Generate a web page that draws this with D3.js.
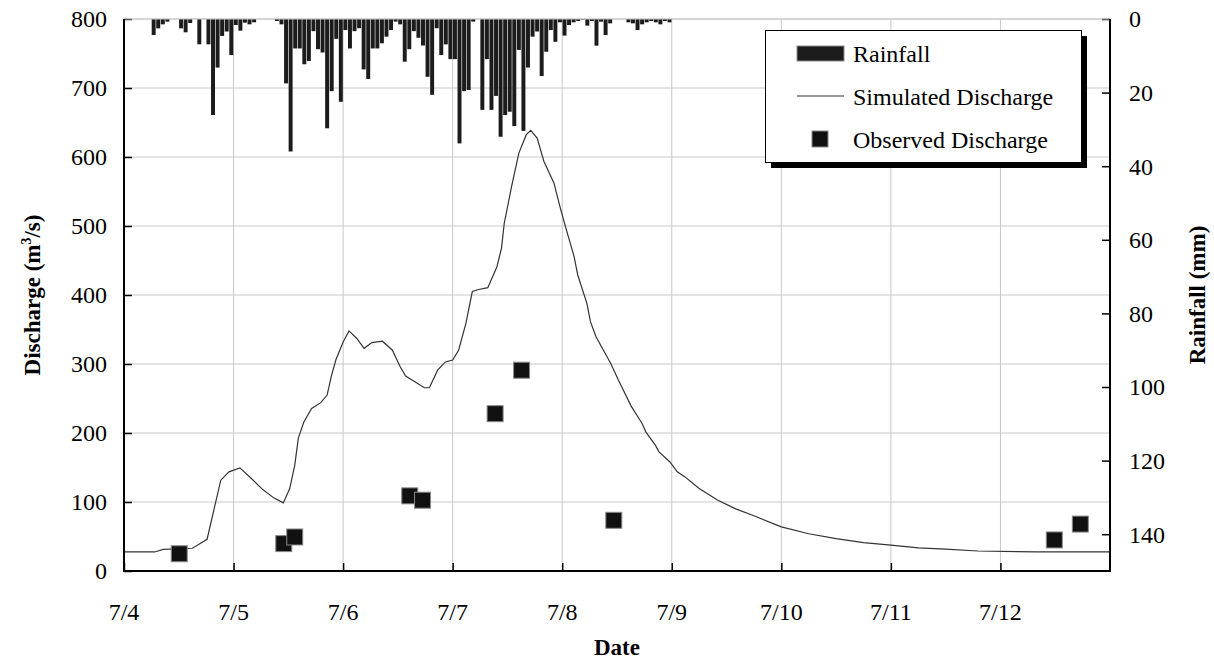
<!DOCTYPE html>
<html>
<head>
<meta charset="utf-8">
<script src="https://cdn.jsdelivr.net/npm/d3@7"></script>
<style>
  body { margin: 0; background: #fff; }
  svg text { font-family: 'Liberation Serif', 'Times New Roman', serif; fill: #000; }
</style>
</head>
<body>
<div id="chart"></div>
<script>
// hourly rainfall (mm) starting 7/4 00:00
const rainfall = [
  0, 0, 0, 0, 0, 0, 4.35, 2.54, 1.45, 0.72, 0, 0, 2.54, 3.62, 1.09, 0, 6.88, 0, 6.88, 26.1, 13.2, 4.6, 3.4, 9.8,
  1.63, 3.17, 1.0, 1.45, 0.9, 0, 0, 0, 0, 0.54, 1.45, 17.5, 36.0, 8.0, 8.0, 12.3, 11.4, 3.3, 8.2, 9.1, 29.7, 19.6, 5.4, 22.5,
  3.0, 8.0, 3.3, 2.5, 13.7, 16.3, 8.0, 8.0, 6.6, 4.8, 3.0, 0.7, 1.45, 11.6, 8.2, 3.3, 5.1, 7.2, 15.7, 20.6, 2.5, 9.8, 6.9, 10.9,
  10.9, 33.8, 19.6, 19.3, 0.7, 0, 24.7, 10.9, 24.7, 20.9, 32.0, 26.1, 25.2, 29.1, 8.4, 30.4, 13.2, 4.8, 3.4, 15.5, 8.9, 3.0, 6.2, 0.9,
  4.5, 1.63, 0.9, 0.54, 0.18, 1.8, 0.54, 7.25, 0.72, 4.35, 1.18, 0, 0, 0, 0.9, 1.18, 3.0, 1.45, 0.9, 0.54, 0.9, 1.45, 0.54, 0.9
];

// simulated discharge: hours from 7/4 00:00, m3/s
const simHours = [0, 6.7, 8.6, 15, 18.2, 21.2, 23, 25.4, 27.9, 30.4, 32.8, 34.9, 36.3, 37.4, 38.2, 39.4, 41.1, 43.1, 44.5, 45.4,
  46.4, 48, 49.3, 51, 52.6, 54.3, 56.6, 58.8, 60.5, 61.7, 63.8, 65.8, 66.9, 68.7, 70.4, 72, 73.3, 74.9, 76.3, 77.7,
  79.7, 81.7, 82.7, 83.3, 84.9, 86.5, 88.1, 89.1, 90.5, 92, 94.2, 95.4, 96.6, 98.6, 99.4, 101.4, 102.2, 103.4, 106.6, 108.3,
  111.1, 113.5, 114.3, 116.4, 117.2, 119.6, 121.2, 122.9, 126, 130, 134, 138, 144, 150, 156, 162, 168, 174, 180, 187, 200, 216];
const simQ = [27.6, 27.6, 31.4, 33, 46, 131.6, 143.7, 149.5, 134, 118, 106, 98.7, 119.5, 153, 193, 216, 235.6, 244, 255, 281.6,
  305.8, 332, 348, 337, 322.7, 331, 333, 320, 296, 282.5, 274, 265.6, 265.6, 291, 303, 305.8, 320, 359, 405, 408,
  410.7, 441, 468, 504, 557, 605.7, 632, 638.6, 627.5, 593.6, 562, 530.7, 501.7, 455.7, 429, 388, 361, 339.6, 301, 276.7,
  239, 213.8, 201.7, 182.4, 172.7, 158, 143.7, 136.4, 119.5, 103, 90, 80, 64, 54, 47, 41, 37.6, 33.5, 31.7, 29, 27.6, 27.6];

// observed discharge
const obsHours = [12.1, 35, 37.4, 62.6, 65.4, 81.3, 87.1, 107.3, 203.8, 209.5];
const obsQ = [25, 39.7, 49.3, 108.9, 102.6, 228, 291, 73.5, 45, 68];

const dateLabels = ['7/4', '7/5', '7/6', '7/7', '7/8', '7/9', '7/10', '7/11', '7/12'];
const qTicks = [0, 100, 200, 300, 400, 500, 600, 700, 800];
const rainTicks = [0, 20, 40, 60, 80, 100, 120, 140];

const width = 1214;
const height = 667;
const plotLeft = 124, plotRight = 1110, plotTop = 19, plotBottom = 571;

const svg = d3.select('#chart')
              .append('svg')
              .attr('width', width)
              .attr('height', height);

const xScale = d3.scaleLinear()
                 .domain([0, 216])
                 .range([plotLeft, plotRight]);

const yScale = d3.scaleLinear()
                 .domain([0, 800])
                 .range([plotBottom, plotTop]);

const rainScale = d3.scaleLinear()
                    .domain([0, 150])
                    .range([plotTop, plotBottom]);

// grid
svg.append('g')
   .selectAll('line')
   .data(qTicks.slice(1))
   .join('line')
   .attr('x1', plotLeft).attr('x2', plotRight)
   .attr('y1', d => yScale(d)).attr('y2', d => yScale(d))
   .attr('stroke', '#c8c8c8').attr('stroke-width', 1);

svg.append('g')
   .selectAll('line')
   .data(d3.range(1, 9))
   .join('line')
   .attr('x1', d => xScale(d * 24)).attr('x2', d => xScale(d * 24))
   .attr('y1', plotTop).attr('y2', plotBottom)
   .attr('stroke', '#c8c8c8').attr('stroke-width', 1);

// rainfall bars hanging from the top
svg.append('g')
   .selectAll('rect')
   .data(rainfall)
   .join('rect')
   .attr('x', (d, i) => xScale(i) + 0.3)
   .attr('y', plotTop)
   .attr('width', (d, i) => xScale(i + 1) - xScale(i) - 0.6)
   .attr('height', d => rainScale(d) - plotTop)
   .attr('fill', '#1c1c1c');

// simulated discharge line
const line = d3.line()
               .x((d, i) => xScale(simHours[i]))
               .y(d => yScale(d));

svg.append('path')
   .datum(simQ)
   .attr('d', line)
   .attr('fill', 'none')
   .attr('stroke', '#333')
   .attr('stroke-width', 1.2);

// observed discharge markers
const size = 16;
svg.append('g')
   .selectAll('rect')
   .data(obsQ)
   .join('rect')
   .attr('x', (d, i) => xScale(obsHours[i]) - size / 2)
   .attr('y', d => yScale(d) - size / 2)
   .attr('width', size)
   .attr('height', size)
   .attr('fill', '#111')
   .attr('stroke', '#8a8a8a')
   .attr('stroke-width', 1);

// axes
const xAxis = d3.axisTop(xScale)
                .tickValues(d3.range(0, 9).map(d => d * 24))
                .tickSize(8)
                .tickFormat('');

svg.append('g')
   .attr('transform', 'translate(0,' + plotBottom + ')')
   .call(xAxis)
   .call(g => g.select('.domain').remove())
   .call(g => g.selectAll('line').attr('stroke', '#000').attr('stroke-width', 1.5));

svg.append('g')
   .selectAll('text')
   .data(dateLabels)
   .join('text')
   .attr('x', (d, i) => xScale(i * 24))
   .attr('y', 620)
   .attr('text-anchor', 'middle')
   .attr('font-size', 24)
   .text(d => d);

const yAxis = d3.axisRight(yScale)
                .tickValues(qTicks)
                .tickSize(8)
                .tickFormat('');

svg.append('g')
   .attr('transform', 'translate(' + plotLeft + ',0)')
   .call(yAxis)
   .call(g => g.select('.domain').remove())
   .call(g => g.selectAll('line').attr('stroke', '#000').attr('stroke-width', 1.5));

svg.append('g')
   .selectAll('text')
   .data(qTicks)
   .join('text')
   .attr('x', 107)
   .attr('y', d => yScale(d))
   .attr('dy', '0.35em')
   .attr('text-anchor', 'end')
   .attr('font-size', 24)
   .text(d => d);

const rainAxis = d3.axisLeft(rainScale)
                   .tickValues(rainTicks)
                   .tickSize(8)
                   .tickFormat('');

svg.append('g')
   .attr('transform', 'translate(' + plotRight + ',0)')
   .call(rainAxis)
   .call(g => g.select('.domain').remove())
   .call(g => g.selectAll('line').attr('stroke', '#000').attr('stroke-width', 1.5));

svg.append('g')
   .selectAll('text')
   .data(rainTicks)
   .join('text')
   .attr('x', 1129)
   .attr('y', d => rainScale(d))
   .attr('dy', '0.35em')
   .attr('font-size', 24)
   .text(d => d);

// frame
svg.append('line').attr('x1', plotLeft).attr('x2', plotRight).attr('y1', plotTop).attr('y2', plotTop)
   .attr('stroke', '#c8c8c8');
svg.append('path')
   .attr('d', `M${plotLeft},${plotTop}V${plotBottom}H${plotRight}V${plotTop}`)
   .attr('fill', 'none')
   .attr('stroke', '#000')
   .attr('stroke-width', 2);

// axis titles
svg.append('text')
   .attr('transform', 'translate(40,' + ((plotTop + plotBottom) / 2) + ') rotate(-90)')
   .attr('text-anchor', 'middle')
   .attr('font-size', 23)
   .attr('font-weight', 'bold')
   .call(t => {
     t.append('tspan').text('Discharge (m');
     t.append('tspan').attr('dy', -9).attr('font-size', 14).text('3');
     t.append('tspan').attr('dy', 9).text('/s)');
   });

svg.append('text')
   .attr('transform', 'translate(1205,' + ((plotTop + plotBottom) / 2) + ') rotate(-90)')
   .attr('text-anchor', 'middle')
   .attr('font-size', 23)
   .attr('font-weight', 'bold')
   .text('Rainfall (mm)');

svg.append('text')
   .attr('x', (plotLeft + plotRight) / 2)
   .attr('y', 655)
   .attr('text-anchor', 'middle')
   .attr('font-size', 23)
   .attr('font-weight', 'bold')
   .text('Date');

// legend
const legend = svg.append('g');
legend.append('rect').attr('x', 771).attr('y', 36).attr('width', 316).attr('height', 132).attr('fill', '#000');
legend.append('rect').attr('x', 765.5).attr('y', 30.5).attr('width', 316).attr('height', 132)
      .attr('fill', '#fff').attr('stroke', '#000').attr('stroke-width', 1);
legend.append('rect').attr('x', 797).attr('y', 46).attr('width', 47).attr('height', 15)
      .attr('fill', '#1c1c1c').attr('stroke', '#8a8a8a');
legend.append('line').attr('x1', 797).attr('x2', 844).attr('y1', 96).attr('y2', 96)
      .attr('stroke', '#333').attr('stroke-width', 1.2);
legend.append('rect').attr('x', 812).attr('y', 131).attr('width', 16).attr('height', 16)
      .attr('fill', '#111').attr('stroke', '#8a8a8a');

const legendNames = ['Rainfall', 'Simulated Discharge', 'Observed Discharge'];
legend.selectAll('text.item')
      .data(legendNames)
      .join('text')
      .attr('class', 'item')
      .attr('x', 853)
      .attr('y', (d, i) => 62 + i * 43)
      .attr('font-size', 24)
      .text(d => d);
</script>
</body>
</html>
